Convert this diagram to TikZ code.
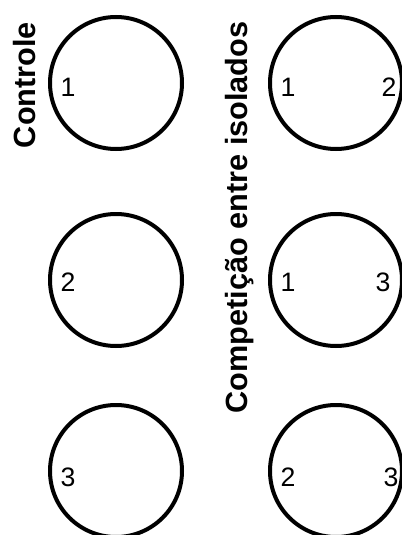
\documentclass[tikz,border=0pt]{standalone}
\usepackage{fontspec}
\setmainfont{Liberation Sans}
\begin{document}
\begin{tikzpicture}[x=0.75pt,y=-0.75pt,
  dish/.style={draw=black,line width=3pt,circle,minimum size=99pt,inner sep=0pt},
  num/.style={inner sep=0pt,font=\fontsize{20}{22}\selectfont},
  title/.style={inner sep=0pt,anchor=base,rotate=90,font=\fontsize{23}{26}\selectfont\bfseries}]
\useasboundingbox (0,0) rectangle (401,535);
\node[dish] (c1) at (116,83) {};
\node[dish] (c2) at (116,280) {};
\node[dish] (c3) at (116,471) {};
\node[dish] (d1) at (336,83) {};
\node[dish] (d2) at (336,280) {};
\node[dish] (d3) at (336,471) {};
\node[num] (c1a) at (68,87) {1};
\node[num] (c2a) at (68,282) {2};
\node[num] (c3a) at (68,477) {3};
\node[num] (d1a) at (288,87) {1};
\node[num] (d1b) at (389,87) {2};
\node[num] (d2a) at (288,282) {1};
\node[num] (d2b) at (383,282) {3};
\node[num] (d3a) at (288,477) {2};
\node[num] (d3b) at (391,477) {3};
\node[title] (t1) at (35,85) {Controle};
\node[title] (t2) at (247,217.5) {Competição entre isolados};
\end{tikzpicture}
\end{document}
